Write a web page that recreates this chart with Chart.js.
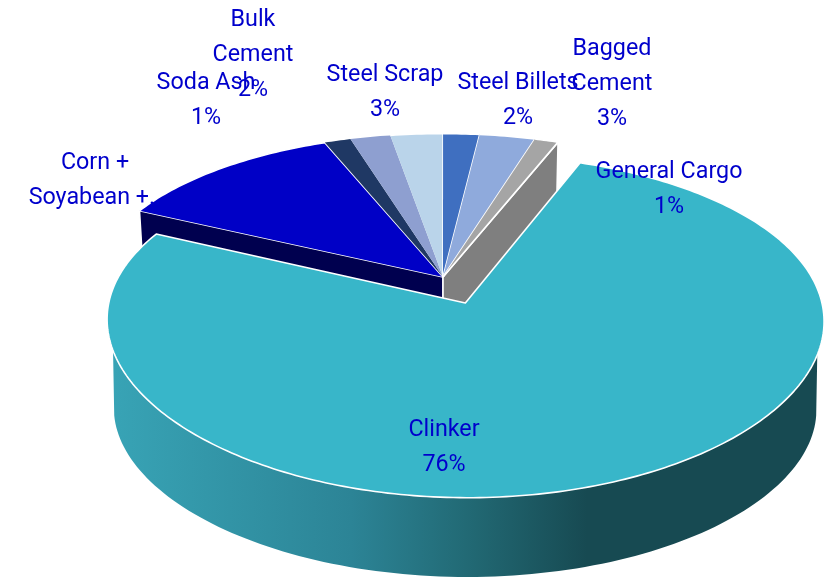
<!DOCTYPE html>
<html><head><meta charset="utf-8">
<style>html,body{margin:0;padding:0;background:#fff}canvas{display:block}</style>
<script src="https://cdn.jsdelivr.net/npm/chart.js@4"></script>
</head><body><canvas id="c" width="828" height="578"></canvas>
<script>
const categories=["Clinker",["Corn +","Soyabean +.."],"Soda Ash",["Bulk","Cement"],"Steel Scrap","Steel Billets",["Bagged","Cement"],"General Cargo"];
const shareValues=[76.27,11.9,1.33,2.03,2.64,1.83,2.8,1.2];
const showPercent=[true,false,true,true,true,true,true,true];
const sliceColors=["#38B6C9","#0000C6","#1F3864","#8E9FD0","#BAD4EA","#3F6FC0","#8FAADC","#A5A5A5"];
const sliceBorders=[1.6,1.6,0,0,1.6,1.6,1.6,1.6];
const sliceOffsets=[45,0,0,0,0,0,0,0];
const labelAnchors=[[444,430],[95,163],[206,83],[253,20],[385,75],[518,83],[612,49],[669,172]];

const view={x:443,y:277,a:351,b:162,bLow:145,kx:0.1,k:0.13,drop:93,shrink:0.02};
function project(u,v,low){
  const s=low?view.shrink:0;
  const wx=1/(1-view.kx*v+s), wy=1/(1-view.k*v+s);
  return [view.x+view.a*u*wx, view.y+((low?view.bLow:view.b)*v+(low?view.drop:0))*wy];
}
function geom(el){
  const d=(el.options.offset||0)/el.outerRadius, mid=(el.startAngle+el.endAngle)/2;
  return {cu:Math.cos(mid)*d,cv:Math.sin(mid)*d,s:el.startAngle,e:el.endAngle};
}
function pt(g,a,low,r=1){return project(g.cu+r*Math.cos(a),g.cv+r*Math.sin(a),low);}
function paintTop(el,ctx){
  const g=geom(el),n=Math.max(8,Math.ceil((g.e-g.s)*60)),apex=project(g.cu,g.cv,false),o=el.options;
  const rim=[];for(let i=0;i<=n;i++)rim.push(pt(g,g.s+(g.e-g.s)*i/n,false));
  ctx.beginPath();ctx.moveTo(apex[0],apex[1]);rim.forEach(p=>ctx.lineTo(p[0],p[1]));ctx.closePath();
  ctx.fillStyle=o.backgroundColor;ctx.fill();
  if(o.borderWidth>0){
    ctx.beginPath();
    rim.forEach((p,i)=>i?ctx.lineTo(p[0],p[1]):ctx.moveTo(p[0],p[1]));
    ctx.lineTo(apex[0],apex[1]);
    if(o.offset>0)ctx.closePath();
    ctx.lineJoin='round';ctx.strokeStyle=o.borderColor;ctx.lineWidth=o.borderWidth;ctx.stroke();
  }
}
Chart.ArcElement.prototype.draw=function(ctx){ if(!(this.options.offset>0)) paintTop(this,ctx); };
function cutWall(ctx,el,a,color){
  const g=geom(el),p=[project(g.cu,g.cv,false),pt(g,a,false),pt(g,a,true),project(g.cu,g.cv,true)];
  ctx.beginPath();p.forEach((q,i)=>i?ctx.lineTo(q[0],q[1]):ctx.moveTo(q[0],q[1]));ctx.closePath();
  ctx.fillStyle=color;ctx.fill();ctx.strokeStyle='#fff';ctx.lineWidth=1.6;ctx.lineJoin='round';ctx.stroke();
}
const depth3d={id:'depth3d',
  beforeDatasetsDraw(chart){
    const ctx=chart.ctx,arcs=chart.getDatasetMeta(0).data;
    ctx.save();
    cutWall(ctx,arcs[1],arcs[1].startAngle,'#00004F');
    cutWall(ctx,arcs[arcs.length-1],arcs[arcs.length-1].endAngle,'#7F7F7F');
    ctx.restore();
  },
  afterDatasetsDraw(chart){
    const ctx=chart.ctx,el=chart.getDatasetMeta(0).data[0],g=geom(el),deg=Math.PI/180;
    const n=120,pts=[];
    for(let i=0;i<=n;i++)pts.push(pt(g,-4*deg+188*deg*i/n,false));
    for(let i=n;i>=0;i--)pts.push(pt(g,8*deg+164*deg*i/n,true));
    const grad=ctx.createLinearGradient(108,0,823,0);
    [[0,'#38A4B6'],[0.34,'#2C8496'],[0.5,'#226A75'],[0.67,'#174A52'],[1,'#174A52']].forEach(s=>grad.addColorStop(s[0],s[1]));
    ctx.save();
    ctx.beginPath();pts.forEach((q,i)=>i?ctx.lineTo(q[0],q[1]):ctx.moveTo(q[0],q[1]));ctx.closePath();
    ctx.fillStyle=grad;ctx.fill();
    paintTop(el,ctx);
    ctx.restore();
  },
  afterDraw(chart){
    const ctx=chart.ctx,total=shareValues.reduce((a,b)=>a+b,0);
    ctx.save();ctx.font='23.3px Roboto';ctx.fillStyle='#0000CC';ctx.textAlign='center';ctx.textBaseline='middle';
    categories.forEach((c,i)=>{
      const lines=[].concat(c);
      if(showPercent[i])lines.push(Math.round(shareValues[i]/total*100)+'%');
      lines.forEach((t,j)=>ctx.fillText(t,labelAnchors[i][0],labelAnchors[i][1]+j*35));
    });
    ctx.restore();
  }
};
new Chart(document.getElementById('c'),{
  type:'pie',
  data:{labels:categories,datasets:[{data:shareValues,backgroundColor:sliceColors,borderColor:'#fff',borderWidth:sliceBorders,offset:sliceOffsets}]},
  options:{responsive:false,animation:false,rotation:21,plugins:{legend:{display:false},tooltip:{enabled:false}}},
  plugins:[depth3d]
});
</script></body></html>
